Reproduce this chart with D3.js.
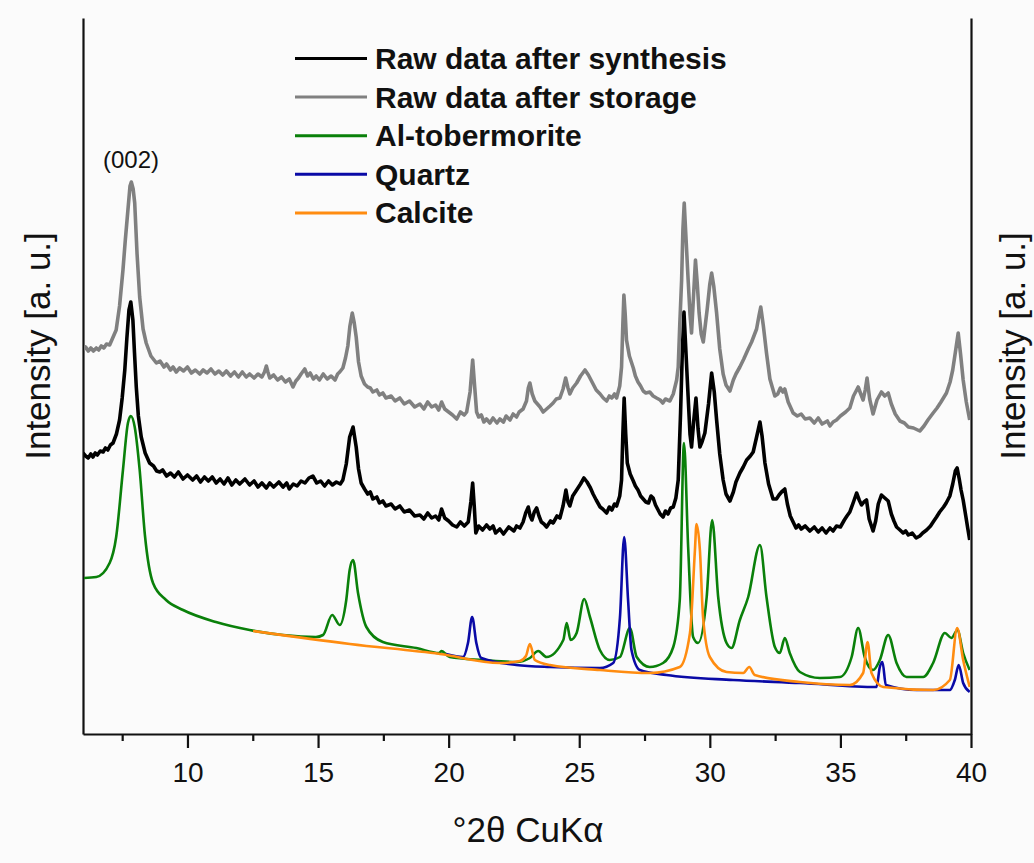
<!DOCTYPE html>
<html>
<head>
<meta charset="utf-8">
<script src="https://cdnjs.cloudflare.com/ajax/libs/d3/7.8.5/d3.min.js"></script>
<style>
  body { margin: 0; background: #fbfbfb; }
  svg { display: block; font-family: "Liberation Sans", Arial, sans-serif; }
</style>
</head>
<body>
<script>
'use strict';

// x tick values (degrees 2theta)
const majorTicks = [10, 15, 20, 25, 30, 35, 40];
const minorTicks = [7.5, 12.5, 17.5, 22.5, 27.5, 32.5, 37.5];

const seriesNames = ["Raw data after synthesis", "Raw data after storage", "Al-tobermorite", "Quartz", "Calcite"];
const seriesColors = ["#000000", "#808080", "#0a800a", "#0a0aa6", "#ff8c10"];

// [2theta, intensity (a.u.)]
const rawSynthesis = [
  [6.00,281],[6.1,278],[6.2,276],[6.3,280],[6.38,277],[6.47,281],[6.55,279],[6.66,283],[6.77,282],
  [6.86,286],[6.95,284],[7.05,289],[7.15,291],[7.28,300],[7.40,314],[7.50,336],[7.60,364],[7.68,396],
  [7.76,424],[7.83,432],[7.91,414],[7.97,382],[8.04,347],[8.12,318],[8.23,297],[8.38,281],[8.55,271],
  [8.7,268],[8.82,263],[8.94,262],[9.05,264],[9.2,258],[9.35,261],[9.5,257],[9.65,262],[9.83,255],
  [10.0,259],[10.2,254],[10.35,258],[10.5,252],[10.65,257],[10.8,253],[10.95,257],[11.1,251],[11.25,255],
  [11.4,250],[11.55,256],[11.7,249],[11.85,254],[12.0,250],[12.2,255],[12.38,249],[12.55,253],[12.7,247],
  [12.85,251],[13.02,246],[13.15,251],[13.3,247],[13.5,252],[13.66,247],[13.8,251],[13.9,245],[14.05,250],
  [14.2,248],[14.35,253],[14.5,251],[14.65,256],[14.80,258],[14.95,251],[15.1,253],[15.25,248],[15.4,253],
  [15.55,249],[15.7,252],[15.85,250],[15.95,254],[16.08,270],[16.21,297],[16.34,307],[16.46,287],[16.55,265],
  [16.65,251],[16.78,245],[16.9,240],[17.0,242],[17.10,235],[17.25,237],[17.35,231],[17.48,233],[17.6,228],
  [17.8,230],[17.95,225],[18.13,228],[18.3,222],[18.5,224],[18.7,218],[18.90,219],[19.05,215],[19.2,221],
  [19.35,216],[19.5,218],[19.62,214],[19.73,225],[19.85,216],[20.0,213],[20.15,209],[20.31,207],[20.45,212],
  [20.6,208],[20.75,212],[20.85,232],[20.92,251],[20.98,228],[21.04,201],[21.15,208],[21.3,204],[21.45,209],
  [21.58,205],[21.7,208],[21.8,201],[21.96,205],[22.1,200],[22.3,207],[22.5,203],[22.6,208],[22.73,206],
  [22.85,212],[22.95,221],[23.05,227],[23.12,218],[23.19,214],[23.28,222],[23.37,226],[23.46,218],[23.55,212],
  [23.65,210],[23.75,207],[23.9,213],[24.0,211],[24.15,218],[24.26,216],[24.38,228],[24.49,244],[24.57,232],
  [24.64,228],[24.75,238],[24.90,244],[25.05,250],[25.18,256],[25.3,252],[25.43,246],[25.53,240],[25.65,234],
  [25.8,227],[25.9,225],[26.05,221],[26.15,227],[26.25,224],[26.35,230],[26.43,228],[26.55,238],[26.62,254],
  [26.67,300],[26.72,336],[26.78,300],[26.84,271],[26.95,260],[27.07,253],[27.15,248],[27.25,244],[27.35,238],
  [27.45,235],[27.55,232],[27.65,231],[27.75,238],[27.83,236],[27.92,229],[28.0,225],[28.1,220],[28.21,217],
  [28.3,223],[28.4,220],[28.5,226],[28.60,227],[28.7,236],[28.79,254],[28.88,321],[28.95,385],[29.01,422],
  [29.08,385],[29.17,337],[29.24,300],[29.30,287],[29.38,312],[29.47,336],[29.55,305],[29.62,287],[29.7,292],
  [29.81,301],[29.95,330],[30.07,361],[30.17,342],[30.26,314],[30.38,280],[30.51,254],[30.62,240],[30.77,233],
  [30.9,242],[31.0,252],[31.15,261],[31.28,267],[31.41,274],[31.55,278],[31.66,282],[31.8,298],[31.92,312],
  [32.0,298],[32.11,271],[32.25,250],[32.42,235],[32.55,235],[32.65,239],[32.78,243],[32.87,245],[32.97,230],
  [33.08,218],[33.19,212],[33.3,206],[33.4,209],[33.5,205],[33.65,208],[33.83,203],[34.0,207],[34.15,202],
  [34.3,206],[34.45,201],[34.6,206],[34.72,203],[34.85,208],[35.0,207],[35.15,214],[35.25,218],[35.36,222],
  [35.5,232],[35.62,241],[35.72,234],[35.81,229],[35.9,232],[36.00,234],[36.1,215],[36.25,203],[36.35,213],
  [36.45,230],[36.57,239],[36.7,236],[36.83,233],[36.95,220],[37.05,213],[37.15,207],[37.28,204],[37.4,201],
  [37.5,203],[37.6,199],[37.75,201],[37.9,196],[38.04,198],[38.15,201],[38.3,204],[38.45,208],[38.55,212],
  [38.68,217],[38.8,222],[38.95,227],[39.05,231],[39.19,238],[39.3,250],[39.40,263],[39.47,266],[39.55,255],
  [39.62,244],[39.70,234],[39.8,218],[39.88,205],[39.95,194]
];

const rawStorage = [
  [6.00,384],[6.1,387],[6.2,383],[6.3,386],[6.4,383],[6.51,386],[6.6,384],[6.7,388],[6.8,386],[6.9,390],
  [7.02,389],[7.12,395],[7.27,404],[7.40,428],[7.53,464],[7.62,494],[7.72,524],[7.80,548],[7.85,552],
  [7.92,545],[7.98,531],[8.07,480],[8.17,437],[8.3,405],[8.42,391],[8.6,378],[8.81,371],[8.95,373],
  [9.1,367],[9.2,370],[9.35,364],[9.45,367],[9.57,362],[9.7,366],[9.85,363],[10.0,367],[10.15,361],
  [10.3,364],[10.47,360],[10.6,364],[10.75,361],[10.9,365],[11.05,360],[11.2,363],[11.35,359],[11.49,363],
  [11.65,358],[11.8,362],[11.95,357],[12.1,362],[12.25,357],[12.38,360],[12.55,356],[12.7,360],[12.85,357],
  [12.95,362],[13.02,368],[13.08,362],[13.15,356],[13.3,359],[13.45,354],[13.6,357],[13.75,352],[13.9,355],
  [14.04,347],[14.15,353],[14.25,356],[14.35,360],[14.49,365],[14.6,358],[14.7,361],[14.82,355],[14.93,358],
  [15.05,354],[15.2,360],[15.35,355],[15.5,358],[15.65,354],[15.75,360],[15.83,362],[15.95,366],[16.05,376],
  [16.14,388],[16.22,408],[16.31,421],[16.38,412],[16.46,397],[16.55,372],[16.65,358],[16.78,350],[16.9,347],
  [17.0,346],[17.10,342],[17.25,344],[17.35,339],[17.48,341],[17.6,336],[17.8,338],[17.95,333],[18.13,336],
  [18.3,330],[18.5,333],[18.7,327],[18.9,330],[19.05,325],[19.2,332],[19.35,327],[19.5,329],[19.62,324],
  [19.73,332],[19.85,325],[20.0,322],[20.15,319],[20.31,315],[20.45,322],[20.6,319],[20.69,322],[20.82,342],
  [20.92,374],[21.0,346],[21.07,322],[21.15,317],[21.25,319],[21.35,312],[21.45,315],[21.58,311],[21.7,316],
  [21.85,311],[21.96,315],[22.1,312],[22.2,318],[22.35,314],[22.47,320],[22.6,317],[22.7,322],[22.85,325],
  [22.98,333],[23.05,346],[23.11,351],[23.2,340],[23.30,333],[23.4,330],[23.5,327],[23.62,322],[23.75,325],
  [23.88,328],[24.0,331],[24.12,335],[24.26,336],[24.38,345],[24.48,356],[24.57,346],[24.64,340],[24.75,346],
  [24.90,351],[25.05,358],[25.22,364],[25.35,359],[25.53,350],[25.65,344],[25.8,340],[25.92,336],[26.05,333],
  [26.15,338],[26.25,336],[26.35,340],[26.43,336],[26.55,348],[26.62,367],[26.67,410],[26.71,439],[26.76,420],
  [26.81,394],[26.92,378],[27.07,366],[27.15,358],[27.25,352],[27.35,348],[27.45,343],[27.55,341],[27.7,342],
  [27.83,338],[27.96,336],[28.1,334],[28.2,331],[28.3,335],[28.47,333],[28.6,340],[28.73,354],[28.79,367],
  [28.85,410],[28.92,454],[28.97,505],[29.02,531],[29.08,500],[29.17,454],[29.24,420],[29.30,401],[29.38,440],
  [29.45,474],[29.52,450],[29.59,421],[29.67,400],[29.75,392],[29.9,425],[30.0,450],[30.07,461],[30.15,448],
  [30.26,421],[30.38,385],[30.51,360],[30.62,349],[30.77,343],[30.9,354],[31.0,360],[31.15,367],[31.3,375],
  [31.47,385],[31.6,392],[31.79,405],[31.88,418],[31.95,427],[32.05,408],[32.17,381],[32.3,355],[32.49,338],
  [32.6,340],[32.7,346],[32.8,342],[32.87,345],[33.0,332],[33.19,321],[33.35,318],[33.5,320],[33.65,315],
  [33.83,316],[34.0,311],[34.15,316],[34.3,310],[34.5,313],[34.6,308],[34.72,312],[34.85,314],[35.0,318],
  [35.2,322],[35.36,326],[35.5,338],[35.68,347],[35.78,340],[35.87,334],[35.95,344],[36.02,356],[36.12,335],
  [36.25,320],[36.4,334],[36.57,342],[36.7,338],[36.83,341],[36.95,330],[37.1,320],[37.28,313],[37.45,311],
  [37.6,307],[37.8,306],[38.04,303],[38.2,308],[38.35,314],[38.55,321],[38.7,326],[38.85,332],[39.06,341],
  [39.2,352],[39.3,364],[39.42,385],[39.51,401],[39.6,380],[39.70,354],[39.82,332],[39.95,314]
];

const tobermorite = [
  [6.00, 156], [6.51, 157], [7.02, 171], [7.27, 197], [7.53, 264], [7.72, 311], [7.83, 318],
  [7.98, 307], [8.17, 264], [8.37, 199], [8.68, 151], [9.18, 134], [9.83, 124], [11.09, 112],
  [12.38, 104], [13.66, 99], [14.92, 97], [15.19, 99], [15.54, 119], [15.83, 109], [16.08, 134],
  [16.21, 164], [16.34, 174], [16.53, 141], [16.85, 107], [17.48, 92], [18.76, 86], [19.65, 81],
  [19.72, 83], [20.04, 77], [21.31, 74], [22.59, 72], [23.11, 76], [23.43, 83], [23.75, 77],
  [24.39, 94], [24.52, 111], [24.67, 94], [24.90, 101], [25.19, 135], [25.41, 117], [25.79, 84],
  [26.17, 74], [26.56, 77], [26.94, 106], [27.20, 77], [27.70, 67], [28.21, 71], [28.60, 87],
  [28.85, 134], [29.01, 291], [29.17, 187], [29.36, 97], [29.55, 91], [29.88, 137], [30.09, 214],
  [30.32, 137], [30.64, 91], [30.83, 86], [31.15, 114], [31.47, 137], [31.92, 189], [32.17, 137],
  [32.49, 87], [32.68, 81], [32.87, 96], [33.06, 81], [33.45, 62], [34.21, 56], [34.98, 57],
  [35.43, 77], [35.68, 106], [35.93, 77], [36.25, 64], [36.51, 74], [36.83, 99], [37.15, 71],
  [37.53, 57], [38.17, 57], [38.55, 71], [39.00, 101], [39.25, 96], [39.48, 104], [39.70, 81],
  [39.95, 64]
];

const quartz = [
  [19.9, 80], [20.24, 78], [20.55, 77], [20.74, 91], [20.90, 117], [21.06, 91], [21.25, 76],
  [22.59, 69], [23.88, 67], [25.79, 66], [26.30, 71], [26.56, 117], [26.72, 197], [26.87, 134],
  [27.00, 84], [27.32, 64], [28.34, 59], [30.89, 54], [33.45, 51], [36.38, 47], [36.51, 67],
  [36.61, 72], [36.74, 49], [37.91, 44], [39.19, 44], [39.38, 54], [39.53, 69], [39.70, 51],
  [39.95, 42]
];

const calcite = [
  [12.51, 103], [16.22, 90], [19.67, 80], [21.96, 71], [22.73, 73], [22.96, 78], [23.11, 90],
  [23.30, 74], [23.88, 69], [25.79, 64], [27.70, 61], [28.85, 67], [29.24, 101], [29.43, 184],
  [29.49, 210], [29.62, 184], [29.74, 117], [30.00, 77], [30.64, 62], [31.28, 61], [31.51, 67],
  [31.72, 59], [33.45, 52], [35.36, 49], [35.87, 61], [36.04, 92], [36.19, 61], [36.64, 47],
  [38.55, 44], [39.19, 54], [39.47, 106], [39.70, 74], [39.95, 47]
];

(function() {

  let svg = "";
  const margin = {top: 18, right: 63, bottom: 129, left: 83};
  const width = 1034 - margin.left - margin.right;
  const height = 863 - margin.top - margin.bottom;

  window.onload = function() {
    svg = d3.select('body')
      .append('svg')
      .attr('width', 1034)
      .attr('height', 863);

    let funcs = makeAxes();
    plotLines(funcs);
    makeLegend();
    makeLabels();
  }

  // frame, ticks and tick labels
  function makeAxes() {
    let xScale = d3.scaleLinear()
      .domain([6, 40])
      .range([margin.left, margin.left + width]);

    let yScale = d3.scaleLinear()
      .domain([0, 716])
      .range([margin.top + height, margin.top]);

    let xAxis = d3.axisBottom(xScale)
      .tickValues(majorTicks)
      .tickSize(14)
      .tickPadding(14)
      .tickSizeOuter(0);

    let xMinor = d3.axisBottom(xScale)
      .tickValues(minorTicks)
      .tickSize(7)
      .tickFormat("")
      .tickSizeOuter(0);

    let gx = svg.append("g")
      .attr("class", "x axis")
      .attr("transform", "translate(0," + (margin.top + height) + ")")
      .call(xAxis);
    gx.selectAll("text")
      .style("font-size", "28px")
      .style("font-family", '"Liberation Sans", Arial, sans-serif')
      .attr("fill", "#111");

    svg.append("g")
      .attr("class", "x minor")
      .attr("transform", "translate(0," + (margin.top + height) + ")")
      .call(xMinor)
      .select(".domain").remove();

    svg.selectAll(".tick line").attr("stroke-width", 2.2).attr("stroke", "#111");
    gx.select(".domain").attr("stroke-width", 2.2).attr("stroke", "#111");

    // left and right frame lines, no y ticks
    let yAxisL = d3.axisLeft(yScale).tickValues([]).tickSizeOuter(0);
    let yAxisR = d3.axisRight(yScale).tickValues([]).tickSizeOuter(0);

    svg.append("g")
      .attr("transform", "translate(" + margin.left + ",0)")
      .call(yAxisL)
      .select(".domain").attr("stroke-width", 2.2).attr("stroke", "#111");

    svg.append("g")
      .attr("transform", "translate(" + (margin.left + width) + ",0)")
      .call(yAxisR)
      .select(".domain").attr("stroke-width", 2.2).attr("stroke", "#111");

    return {xScale: xScale, yScale: yScale};
  }

  // draw the five patterns
  function plotLines(funcs) {
    let rawLine = d3.line()
      .x(function(d) {return funcs.xScale(d[0]);})
      .y(function(d) {return funcs.yScale(d[1]);});

    let refLine = d3.line()
      .x(function(d) {return funcs.xScale(d[0]);})
      .y(function(d) {return funcs.yScale(d[1]);})
      .curve(d3.curveMonotoneX);

    svg.append("clipPath")
      .attr("id", "plotClip")
      .append("rect")
      .attr("x", margin.left + 1)
      .attr("y", margin.top)
      .attr("width", width - 2)
      .attr("height", height);

    let all = [rawSynthesis, rawStorage, tobermorite, quartz, calcite];
    let widths = [3.6, 3.6, 2.6, 2.6, 2.6];

    let g = svg.append("g").attr("clip-path", "url(#plotClip)");
    all.forEach(function(data, i) {
      g.append("path")
        .datum(data)
        .attr("fill", "none")
        .attr("stroke", seriesColors[i])
        .attr("stroke-width", widths[i])
        .attr("stroke-linejoin", "round")
        .attr("d", i < 2 ? rawLine : refLine);
    });
  }

  function makeLegend() {
    let rows = svg.append("g").selectAll("g")
      .data(seriesNames)
      .enter()
      .append("g")
      .attr("transform", function(d, i) {return "translate(295," + (58.5 + i * 38.6) + ")";});

    rows.append("line")
      .attr("x1", 0)
      .attr("x2", 72)
      .attr("stroke", function(d, i) {return seriesColors[i];})
      .attr("stroke-width", 3);

    rows.append("text")
      .attr("x", 80)
      .attr("y", 10.5)
      .style("font-size", "30px")
      .style("font-weight", "bold")
      .attr("fill", "#111")
      .text(function(d) {return d;});
  }

  // axis titles and peak label
  function makeLabels() {
    svg.append("text")
      .attr("x", 528)
      .attr("y", 842)
      .attr("text-anchor", "middle")
      .style("font-size", "35px")
      .attr("fill", "#111")
      .text("°2θ CuKα");

    svg.append("text")
      .attr("transform", "translate(50,346)rotate(-90)")
      .attr("text-anchor", "middle")
      .style("font-size", "35px")
      .attr("fill", "#111")
      .text("Intensity [a. u.]");

    svg.append("text")
      .attr("transform", "translate(1025,346)rotate(-90)")
      .attr("text-anchor", "middle")
      .style("font-size", "35px")
      .attr("fill", "#111")
      .text("Intensity [a. u.]");

    svg.append("text")
      .attr("x", 131)
      .attr("y", 168)
      .attr("text-anchor", "middle")
      .style("font-size", "24px")
      .attr("fill", "#111")
      .text("(002)");
  }
})();
</script>
</body>
</html>
